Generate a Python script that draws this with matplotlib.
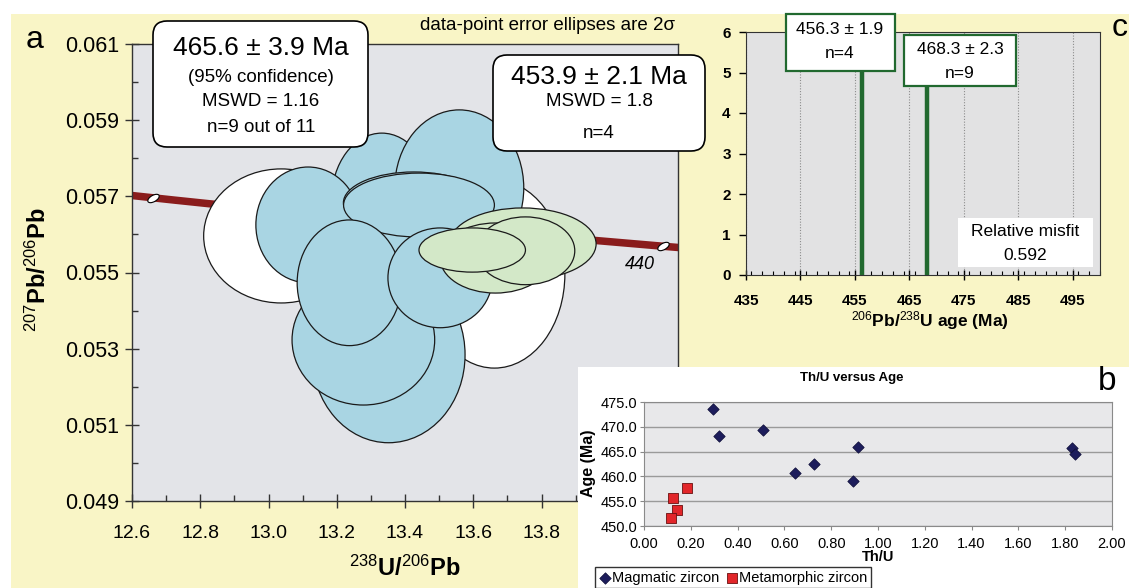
import numpy as np
import matplotlib
matplotlib.use('Agg')
import matplotlib.pyplot as plt
from matplotlib.patches import Ellipse, Rectangle, FancyBboxPatch
from matplotlib.path import Path
from matplotlib.transforms import Affine2D
from matplotlib.ticker import MultipleLocator, FormatStrFormatter

plt.rcParams['font.family'] = ['Liberation Sans', 'DejaVu Sans']
plt.rcParams['mathtext.fontset'] = 'custom'
plt.rcParams['mathtext.rm'] = 'Liberation Sans'
plt.rcParams['mathtext.it'] = 'Liberation Sans:italic'
plt.rcParams['mathtext.bf'] = 'Liberation Sans:bold'

W, H, DPI = 1129, 588, 100

# ---- panel a: 2-sigma error ellipses (238U/206Pb, 207Pb/206Pb), in draw order ----
ell_x = [13.037, 13.662, 13.352, 13.278, 13.332, 13.559, 13.116, 13.426, 13.441,
         13.237, 13.503, 13.745, 13.665, 13.753, 13.597]
ell_y = [0.05596, 0.05496, 0.05284, 0.05323, 0.05690, 0.05722, 0.05625, 0.05683, 0.05677,
         0.05473, 0.05486, 0.05575, 0.05538, 0.05557, 0.05559]
ell_sx = [0.227, 0.2065, 0.224, 0.209, 0.1475, 0.189, 0.153, 0.2065, 0.221,
          0.153, 0.153, 0.215, 0.162, 0.1445, 0.156]
ell_sy = [0.00176, 0.00247, 0.00231, 0.00171, 0.00176, 0.00205, 0.00152, 0.00081, 0.00084,
          0.00165, 0.00131, 0.000945, 0.00092, 0.00089, 0.00058]
ell_group = ['rejected', 'rejected'] + ['magmatic'] * 9 + ['metamorphic'] * 4

concordia_ticks = [440, 450, 460, 470, 480, 490]   # Ma
labelled_tick = 440

# ---- panel b: Th/U versus age ----
mag_thu = [0.293, 0.322, 0.51, 0.645, 0.727, 0.895, 0.915, 1.828, 1.842]
mag_age = [473.6, 468.1, 469.4, 460.6, 462.6, 459.1, 466.0, 465.7, 464.5]
met_thu = [0.182, 0.125, 0.14, 0.115]
met_age = [457.6, 455.6, 453.2, 451.6]

# ---- panel c: unmixed age peaks ----
peak_age = [456.3, 468.3]
peak_err = [1.9, 2.3]
peak_n = [4, 9]
peak_top = [6.0, 5.0]
misfit = 0.592

YELLOW = '#f9f5c6'
GRAY_A = '#e3e4e8'
GRAY_C = '#e2e2e3'
BLUE = '#a9d5e3'
GREEN = '#d3e8c8'
DKGREEN = '#21692f'
FILL = {'rejected': 'white', 'magmatic': BLUE, 'metamorphic': GREEN}

fig = plt.figure(figsize=(W / DPI, H / DPI), dpi=DPI)
fig.patch.set_facecolor('white')
# pixel coordinates measured from the top-left corner of the picture
pix = Affine2D().scale(1 / DPI, -1 / DPI).translate(0, H / DPI) + fig.dpi_scale_trans


def frac(x0, y0, x1, y1):
    return [x0 / W, 1 - y1 / H, (x1 - x0) / W, (y1 - y0) / H]


def box(x, y, w, h, round_px=0, ec='black', lw=1.0, z=1.5):
    style = 'round,pad=0,rounding_size=%d' % round_px if round_px else 'square,pad=0'
    fig.add_artist(FancyBboxPatch((x, y), w, h, boxstyle=style, transform=pix,
                                  facecolor='white', edgecolor=ec, linewidth=lw, zorder=z))


def label(x, y, s, size, z=1.6, **kw):
    fig.text(x, y, s, transform=pix, fontsize=size, ha='center', va='center', zorder=z, **kw)


fig.add_artist(Rectangle((11, 14), W - 11, H - 14, transform=pix,
                         facecolor=YELLOW, edgecolor='none', zorder=-10))

# ================= panel a =================
ax_a = fig.add_axes(frac(132, 44, 678, 501), zorder=1)
ax_a.set_facecolor(GRAY_A)
ax_a.set_xlim(12.6, 14.2)
ax_a.set_ylim(0.049, 0.061)

# concordia (Tera-Wasserburg)
L238, L235, U85 = 1.55125e-10, 9.8485e-10, 137.88
t = np.linspace(420, 515, 200) * 1e6
ax_a.plot(1 / np.expm1(L238 * t), np.expm1(L235 * t) / np.expm1(L238 * t) / U85,
          color='#8a1c1c', lw=5.4, solid_capstyle='butt', zorder=2)
tt = np.array(concordia_ticks) * 1e6
cx = 1 / np.expm1(L238 * tt)
cy = np.expm1(L235 * tt) / np.expm1(L238 * tt) / U85
tick_marker = Path.unit_circle().transformed(Affine2D().scale(1.0, 0.5).rotate_deg(30))
ax_a.plot(cx, cy, ls='none', marker=tick_marker, ms=8.5, mfc='white', mec='black',
          mew=0.8, zorder=3)
i = concordia_ticks.index(labelled_tick)
ax_a.annotate(str(labelled_tick), (cx[i], cy[i]), xytext=(-17, -13), textcoords='offset points',
              ha='center', va='center', fontsize=13, style='italic', zorder=3)

for k in range(len(ell_x)):
    ax_a.add_patch(Ellipse((ell_x[k], ell_y[k]), 2 * ell_sx[k], 2 * ell_sy[k],
                           facecolor=FILL[ell_group[k]], edgecolor='#1a1a1a', lw=0.9,
                           zorder=4 + k * 0.01))

# x labels beyond 13.8 sit under panel b, so they are left blank
xt = np.round(np.arange(12.6, 14.21, 0.2), 1)
ax_a.set_xticks(xt, ['%.1f' % v if v <= 13.8 else '' for v in xt])
ax_a.xaxis.set_minor_locator(MultipleLocator(0.1))
ax_a.set_yticks(np.arange(0.049, 0.0615, 0.002))
ax_a.yaxis.set_minor_locator(MultipleLocator(0.001))
ax_a.yaxis.set_major_formatter(FormatStrFormatter('%.3f'))
ax_a.tick_params(which='major', direction='inout', length=10, width=1, color='#333333')
ax_a.tick_params(which='minor', direction='in', length=4, width=1, color='#333333')
ax_a.tick_params(axis='x', which='major', labelsize=14, pad=12)
ax_a.tick_params(axis='y', which='major', labelsize=15.5, pad=4)
for s in ax_a.spines.values():
    s.set_color('#333333')
    s.set_linewidth(1)

label(38, 270, r'$^{207}$Pb/$^{206}$Pb', 17, rotation=90, fontweight='bold')
label(405, 568, r'$^{238}$U/$^{206}$Pb', 17, fontweight='bold')
label(35, 40, 'a', 23)
label(547, 26, 'data-point error ellipses are 2σ', 13.5)

box(153, 21, 215, 126, round_px=14, lw=1.2)
label(261, 48, '465.6 ± 3.9 Ma', 19)
label(261, 78, '(95% confidence)', 13.5)
label(261, 102, 'MSWD = 1.16', 13.5)
label(261, 127, 'n=9 out of 11', 13.5)

box(493, 55, 212, 96, round_px=14, lw=1.2)
label(599, 77, '453.9 ± 2.1 Ma', 19)
label(599, 102, 'MSWD = 1.8', 13.5)
label(599, 133, 'n=4', 13.5)

# ================= panel c =================
ax_c = fig.add_axes(frac(746, 32, 1100, 275), zorder=1)
ax_c.set_facecolor(GRAY_C)
ax_c.set_xlim(435, 500)
ax_c.set_ylim(0, 6)
ax_c.set_xticks(np.arange(435, 500, 10))
ax_c.xaxis.set_minor_locator(MultipleLocator(2))
ax_c.set_yticks(range(0, 7))
ax_c.grid(axis='x', which='major', color='#8c8c8c', ls=(0, (1, 1.5)), lw=0.8)
ax_c.vlines(peak_age, 0, peak_top, color=DKGREEN, lw=3.2, zorder=3)
ax_c.tick_params(axis='y', direction='out', length=5, width=1, labelsize=11, pad=6)
ax_c.tick_params(axis='x', which='major', direction='inout', length=7, width=1,
                 labelsize=11, pad=10)
ax_c.tick_params(axis='x', which='minor', direction='in', length=3, width=0.8)
for lbl in ax_c.get_xticklabels() + ax_c.get_yticklabels():
    lbl.set_fontweight('bold')
for s in ax_c.spines.values():
    s.set_color('#333333')

label(930, 321, r'$^{206}$Pb/$^{238}$U age (Ma)', 12.5, fontweight='bold')
label(1120, 28, 'c', 23)

box(786, 14, 109, 57, ec=DKGREEN, lw=1.6)
label(840, 30, '%.1f ± %.1f' % (peak_age[0], peak_err[0]), 12.5)
label(840, 53, 'n=%d' % peak_n[0], 12.5)
box(904, 35, 112, 51, ec=DKGREEN, lw=1.6)
label(960, 50, '%.1f ± %.1f' % (peak_age[1], peak_err[1]), 12.5)
label(960, 73, 'n=%d' % peak_n[1], 12.5)

box(958, 218, 135, 49, ec='none', lw=0)
label(1025, 232, 'Relative misfit', 12.5)
label(1025, 255, '%.3f' % misfit, 12.5)

# ================= panel b =================
fig.add_artist(Rectangle((578, 367), W - 578, H - 367, transform=pix,
                         facecolor='white', edgecolor='none', zorder=2))
ax_b = fig.add_axes(frac(644, 402, 1112, 526), zorder=3)
ax_b.set_facecolor('#e8e8ea')
ax_b.set_xlim(0, 2.0)
ax_b.set_ylim(450, 475)
ax_b.xaxis.set_major_locator(MultipleLocator(0.2))
ax_b.yaxis.set_major_locator(MultipleLocator(5))
ax_b.xaxis.set_major_formatter(FormatStrFormatter('%.2f'))
ax_b.yaxis.set_major_formatter(FormatStrFormatter('%.1f'))
ax_b.grid(axis='y', color='#9a9a9a', lw=1)
ax_b.set_axisbelow(True)
ax_b.tick_params(direction='out', length=3, color='#888888', labelsize=10.5)
ax_b.tick_params(axis='x', pad=5)
ax_b.tick_params(axis='y', pad=2)
for s in ax_b.spines.values():
    s.set_color('#8a8a8a')

ax_b.scatter(mag_thu, mag_age, marker='D', s=34, color='#1d1d5c', edgecolors='#0c0c35',
             linewidths=0.5, label='Magmatic zircon', zorder=3)
ax_b.scatter(met_thu, met_age, marker='s', s=48, color='#e2262a', edgecolors='#6a1010',
             linewidths=0.6, label='Metamorphic zircon', zorder=3)
leg = ax_b.legend(loc='upper left', bbox_to_anchor=(595 / W, 1 - 567 / H),
                  bbox_transform=fig.transFigure, ncol=2, fontsize=10.5, frameon=True,
                  fancybox=False, borderpad=0.25, handletextpad=0.05, columnspacing=0.4,
                  handlelength=0.9, borderaxespad=0)
leg.get_frame().set_edgecolor('black')
leg.get_frame().set_linewidth(1)

label(588, 463, 'Age (Ma)', 11.5, z=4, rotation=90, fontweight='bold')
label(878, 557, 'Th/U', 10.5, z=4, fontweight='bold')
label(852, 378, 'Th/U versus Age', 9.5, z=4, fontweight='bold')
label(1107, 382, 'b', 24, z=4)

fig.savefig('out.png', dpi=DPI)
